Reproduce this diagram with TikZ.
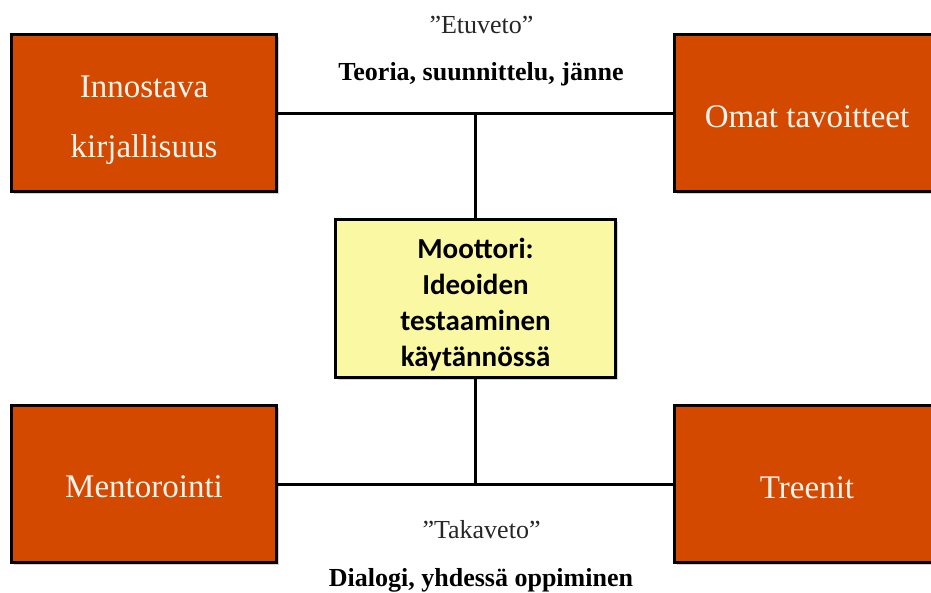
\documentclass[tikz,border=0pt]{standalone}
\usepackage{fontspec}
\setmainfont{Liberation Serif}
\newfontfamily\calibrilike{Carlito}
\usetikzlibrary{shadows}
\definecolor{boxorange}{RGB}{212,73,0}
\definecolor{boxyellow}{RGB}{251,248,164}
\definecolor{boxtext}{RGB}{255,244,238}
\tikzset{
  framebox/.style={draw=black, line width=3pt, minimum width=265pt, minimum height=157pt,
    inner sep=0pt, drop shadow={shadow xshift=2pt, shadow yshift=-2pt, opacity=0.35}},
  orangebox/.style={framebox, fill=boxorange},
  yellowbox/.style={framebox, fill=boxyellow, minimum width=280pt, minimum height=158pt},
  boxlabel/.style={anchor=base, inner sep=0pt, text=boxtext, font=\fontsize{33}{40}\selectfont},
  enginelabel/.style={anchor=base, inner sep=0pt, text=black, font=\calibrilike\bfseries\fontsize{29}{36}\selectfont},
  sidelabel/.style={anchor=base, inner sep=0pt, text=black!85, font=\fontsize{26}{30}\selectfont},
  sidelabelbold/.style={anchor=base, inner sep=0pt, text=black, font=\bfseries\fontsize{26}{30}\selectfont},
  link/.style={draw=black, line width=3pt}
}
\begin{document}
\begin{tikzpicture}[x=1pt,y=-1pt]
\useasboundingbox (0,0) rectangle (931,592);
% boxes
\node[orangebox] (tl) at (144,113) {};
\node[orangebox] (tr) at (807,113) {};
\node[orangebox] (bl) at (144,484) {};
\node[orangebox] (br) at (807,484) {};
\node[yellowbox] (c) at (475.5,298.5) {};
% connectors
\draw[link] (tl.east) -- (tr.west);
\draw[link] (bl.east) -- (br.west);
\coordinate (topjoin) at (c.north |- tl.east);
\coordinate (botjoin) at (c.south |- bl.east);
\draw[link] (c.north) -- (topjoin);
\draw[link] (c.south) -- (botjoin);
% box texts
\node[boxlabel] (tl1) at (144,97) {Innostava};
\node[boxlabel] (tl2) at (144,157) {kirjallisuus};
\node[boxlabel] (trt) at (807,127) {Omat tavoitteet};
\node[boxlabel] (blt) at (144,497) {Mentorointi};
\node[boxlabel] (brt) at (807,498) {Treenit};
\node[enginelabel] (c1) at (475.5,258) {Moottori:};
\node[enginelabel] (c2) at (475.5,294) {Ideoiden};
\node[enginelabel] (c3) at (475.5,330) {testaaminen};
\node[enginelabel] (c4) at (475.5,366) {käytännössä};
% side labels
\node[sidelabel] (et) at (481.5,33) {”Etuveto”};
\node[sidelabelbold] (etd) at (481,80) {Teoria, suunnittelu, jänne};
\node[sidelabel] (tk) at (481.5,538) {”Takaveto”};
\node[sidelabelbold] (tkd) at (481,586) {Dialogi, yhdessä oppiminen};
\end{tikzpicture}
\end{document}
